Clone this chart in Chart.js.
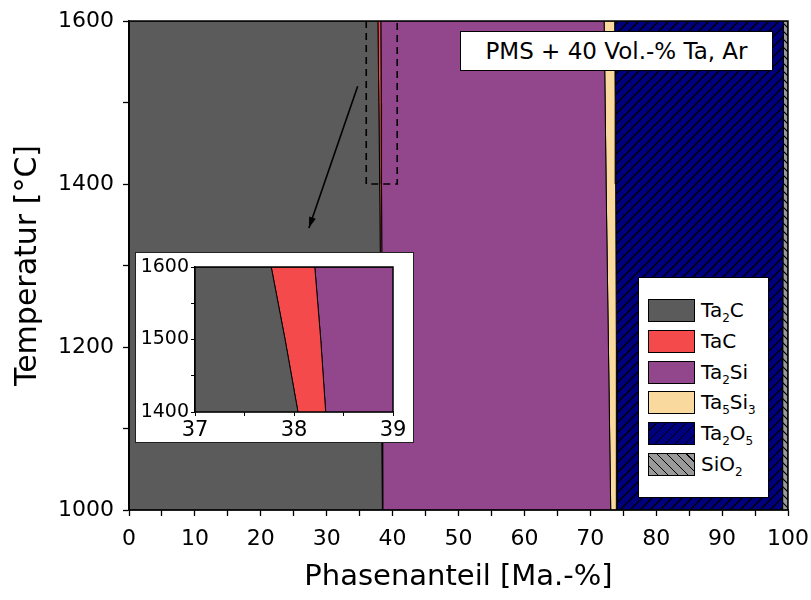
<!DOCTYPE html>
<html>
<head>
<meta charset="utf-8">
<script src="https://cdn.jsdelivr.net/npm/chart.js@4.4.1/dist/chart.umd.min.js"></script>
<style>
  body { margin: 0; background: #fff; }
  #wrap { position: relative; width: 811px; height: 600px; font-family: 'DejaVu Sans', Verdana, sans-serif; }
  #main { position: absolute; left: 0; top: 0; }
  #insetBox { position: absolute; left: 135px; top: 252px; width: 277px; height: 189px; border: 1px solid #222; background: #fff; }
  #note { position: absolute; left: 460px; top: 31px; width: 311px; height: 38px; border: 1px solid #000; background: #fff;
          font-size: 23px; line-height: 38px; text-align: center; color: #000; }
  #legend { position: absolute; left: 638px; top: 277px; width: 129px; height: 219px; border: 1px solid #000; background: #fff; }
  .row { position: absolute; left: 9px; height: 23px; font-size: 20px; line-height: 23px; color: #000; white-space: nowrap; }
  .sw { display: inline-block; width: 45px; height: 21px; border: 1px solid #000; vertical-align: top; margin-right: 6px; }
  .row sub { font-size: 12px; vertical-align: -5px; line-height: 0; }
</style>
</head>
<body>
<div id="wrap">
  <canvas id="main" width="811" height="600"></canvas>
  <div id="note">PMS + 40 Vol.-% Ta, Ar</div>
  <div id="insetBox"><canvas id="inset" width="277" height="189"></canvas></div>
  <div id="legend"></div>
</div>
<script>
// temperature steps (°C) and phase fractions (Ma.-%)
const temps  = [1000, 1200, 1400, 1500, 1600];
const ta2c   = [38.45, 38.25, 38.04, 37.91, 37.77];
const tac    = [0.05, 0.16, 0.28, 0.36, 0.44];
const ta2si  = [34.60, 34.34, 34.08, 33.98, 33.89];
const ta5si3 = [0.95, 1.20, 1.45, 1.52, 1.60];
const ta2o5  = [25.10, 25.25, 25.40, 25.53, 25.60];
const sio2   = [0.85, 0.80, 0.75, 0.70, 0.70];

const phaseLabels = ['Ta<sub>2</sub>C', 'TaC', 'Ta<sub>2</sub>Si', 'Ta<sub>5</sub>Si<sub>3</sub>', 'Ta<sub>2</sub>O<sub>5</sub>', 'SiO<sub>2</sub>'];
const phaseValues = [ta2c, tac, ta2si, ta5si3, ta2o5, sio2];

// zoom frame and arrow in the main plot
const zoomFrameX = [36, 36, 40.7, 40.7];
const zoomFrameY = [1600, 1400, 1400, 1600];
const arrowX = [34.7, 27.3];
const arrowY = [1520, 1346];

const xTicksMain = [0, 100, 10];
const yTicksMain = [1000, 1600, 200];

function hatch(bg, forward, size, lw) {
  const c = document.createElement('canvas');
  c.width = c.height = size;
  const g = c.getContext('2d');
  g.fillStyle = bg;
  g.fillRect(0, 0, size, size);
  g.strokeStyle = '#000';
  g.lineWidth = lw;
  g.beginPath();
  if (forward) {
    g.moveTo(0, size); g.lineTo(size, 0);
    g.moveTo(-size, size); g.lineTo(size, -size);
    g.moveTo(0, 2 * size); g.lineTo(2 * size, 0);
  } else {
    g.moveTo(0, 0); g.lineTo(size, size);
    g.moveTo(-size, 0); g.lineTo(size, 2 * size);
    g.moveTo(0, -size); g.lineTo(2 * size, size);
  }
  g.stroke();
  return g.createPattern(c, 'repeat');
}

const phaseFills = [
  '#5b5b5b',
  '#f44a4c',
  '#92468b',
  '#f9d99d',
  hatch('#00007f', true, 10, 1.4),
  hatch('#9a9a9a', false, 8, 1.2)
];
const legendFills = [
  '#5b5b5b', '#f44a4c', '#92468b', '#f9d99d',
  'repeating-linear-gradient(-45deg, #00007f 0 6px, #000 6px 7px)',
  'repeating-linear-gradient(45deg, #9a9a9a 0 6px, #000 6px 7px)'
];

// closed polygon for each phase: right edge upwards, left edge downwards
function phaseDatasets() {
  const sets = [];
  let lower = temps.map(() => 0);
  phaseValues.forEach((vals, i) => {
    const upper = lower.map((v, k) => v + vals[k]);
    const pts = [];
    temps.forEach((t, k) => pts.push({ x: upper[k], y: t }));
    for (let k = temps.length - 1; k >= 0; k--) pts.push({ x: lower[k], y: temps[k] });
    pts.push(pts[0]);
    sets.push({
      data: pts,
      showLine: true,
      fill: 'shape',
      backgroundColor: phaseFills[i],
      borderColor: '#000',
      borderWidth: 1,
      pointRadius: 0,
      tension: 0
    });
    lower = upper;
  });
  return sets;
}

const framePlugin = {
  id: 'frame',
  afterDatasetsDraw(chart, args, opts) {
    const { ctx, chartArea: a } = chart;
    ctx.save();
    ctx.strokeStyle = '#000';
    ctx.lineWidth = opts.width || 1.5;
    ctx.strokeRect(a.left, a.top, a.right - a.left, a.bottom - a.top);
    ctx.restore();
  }
};

const arrowPlugin = {
  id: 'arrowHead',
  afterDatasetsDraw(chart) {
    const ctx = chart.ctx;
    chart.data.datasets.forEach((ds, i) => {
      if (!ds.arrow) return;
      const pts = chart.getDatasetMeta(i).data;
      const a = pts[pts.length - 2], b = pts[pts.length - 1];
      const ang = Math.atan2(b.y - a.y, b.x - a.x);
      const len = 11, half = 3.5;
      ctx.save();
      ctx.translate(b.x, b.y);
      ctx.rotate(ang);
      ctx.fillStyle = '#000';
      ctx.beginPath();
      ctx.moveTo(0, 0);
      ctx.lineTo(-len, -half);
      ctx.lineTo(-len, half);
      ctx.closePath();
      ctx.fill();
      ctx.restore();
    });
  }
};

// fixed axis boxes, no extra edge padding from labels
function fixX(h) {
  return s => { s.height = h; s.paddingLeft = 0; s.paddingRight = 0; };
}
function fixY(w) {
  return s => { s.width = w; s.paddingTop = 0; s.paddingBottom = 0; };
}

const tickFont = { family: "'DejaVu Sans', Verdana, sans-serif", size: 22 };

const mainSets = [
  {
    data: zoomFrameX.map((x, k) => ({ x, y: zoomFrameY[k] })),
    showLine: true, fill: false, borderColor: '#000', borderWidth: 1.6,
    borderDash: [7, 5], pointRadius: 0
  },
  {
    data: arrowX.map((x, k) => ({ x, y: arrowY[k] })),
    arrow: true, showLine: true, fill: false, borderColor: '#000', borderWidth: 1.6,
    pointRadius: 0
  },
  ...phaseDatasets()
];

new Chart(document.getElementById('main'), {
  type: 'scatter',
  data: { datasets: mainSets },
  options: {
    responsive: false,
    animation: false,
    layout: { padding: { left: 0, right: 23, top: 21, bottom: 0 } },
    plugins: { legend: { display: false }, tooltip: { enabled: false } },
    scales: {
      x: {
        type: 'linear', min: xTicksMain[0], max: xTicksMain[1],
        afterFit: fixX(90),
        grid: { drawOnChartArea: false, tickLength: 6, color: '#000', tickWidth: 1.3 },
        border: { color: '#000', width: 1.5 },
        ticks: {
          stepSize: xTicksMain[2] / 2, autoSkip: false, maxRotation: 0, padding: 10,
          color: '#000', font: tickFont,
          callback: v => (v % xTicksMain[2] === 0 ? v : '')
        },
        title: {
          display: true, text: 'Phasenanteil [Ma.-%]', color: '#000',
          font: { family: "'DejaVu Sans', Verdana, sans-serif", size: 29 },
          padding: { top: 0, bottom: 5 }
        }
      },
      y: {
        type: 'linear', min: yTicksMain[0], max: yTicksMain[1],
        afterFit: fixY(129),
        grid: { drawOnChartArea: false, tickLength: 6, color: '#000', tickWidth: 1.3 },
        border: { color: '#000', width: 1.5 },
        ticks: {
          stepSize: yTicksMain[2] / 2, autoSkip: false, padding: 9,
          color: '#000', font: tickFont,
          callback: v => (v % yTicksMain[2] === 0 ? v : '')
        },
        title: {
          display: true, text: 'Temperatur [°C]', color: '#000',
          font: { family: "'DejaVu Sans', Verdana, sans-serif", size: 30 },
          padding: { top: 10, bottom: 0 }
        }
      }
    }
  },
  plugins: [framePlugin, arrowPlugin]
});

// inset: 37-39 Ma.-%, 1400-1600 °C
const xTicksInset = [37, 39, 1];
const yTicksInset = [1400, 1600, 100];

new Chart(document.getElementById('inset'), {
  type: 'scatter',
  data: { datasets: phaseDatasets() },
  options: {
    responsive: false,
    animation: false,
    layout: { padding: { left: 0, right: 20, top: 14, bottom: 0 } },
    plugins: { legend: { display: false }, tooltip: { enabled: false } },
    scales: {
      x: {
        type: 'linear', min: xTicksInset[0], max: xTicksInset[1],
        afterFit: fixX(30),
        grid: { drawOnChartArea: false, tickLength: 4, color: '#000' },
        border: { color: '#000', width: 1.3 },
        ticks: {
          stepSize: xTicksInset[2] / 2, autoSkip: false, maxRotation: 0, padding: 2,
          color: '#000', font: { family: "'DejaVu Sans', Verdana, sans-serif", size: 21 },
          callback: v => (v % xTicksInset[2] === 0 ? v : '')
        }
      },
      y: {
        type: 'linear', min: yTicksInset[0], max: yTicksInset[1],
        afterFit: fixY(59),
        grid: { drawOnChartArea: false, tickLength: 4, color: '#000' },
        border: { color: '#000', width: 1.3 },
        ticks: {
          stepSize: yTicksInset[2] / 2, autoSkip: false, padding: 2,
          color: '#000', font: { family: "'DejaVu Sans', Verdana, sans-serif", size: 19 },
          callback: v => (v % yTicksInset[2] === 0 ? v : '')
        }
      }
    }
  },
  plugins: [framePlugin]
});

// legend with subscripts
const legend = document.getElementById('legend');
phaseLabels.forEach((label, i) => {
  const row = document.createElement('div');
  row.className = 'row';
  row.style.top = (21 + i * 30.8) + 'px';
  row.innerHTML = '<span class="sw" style="background:' + legendFills[i] + '"></span>' + label;
  legend.appendChild(row);
});
</script>
</body>
</html>
